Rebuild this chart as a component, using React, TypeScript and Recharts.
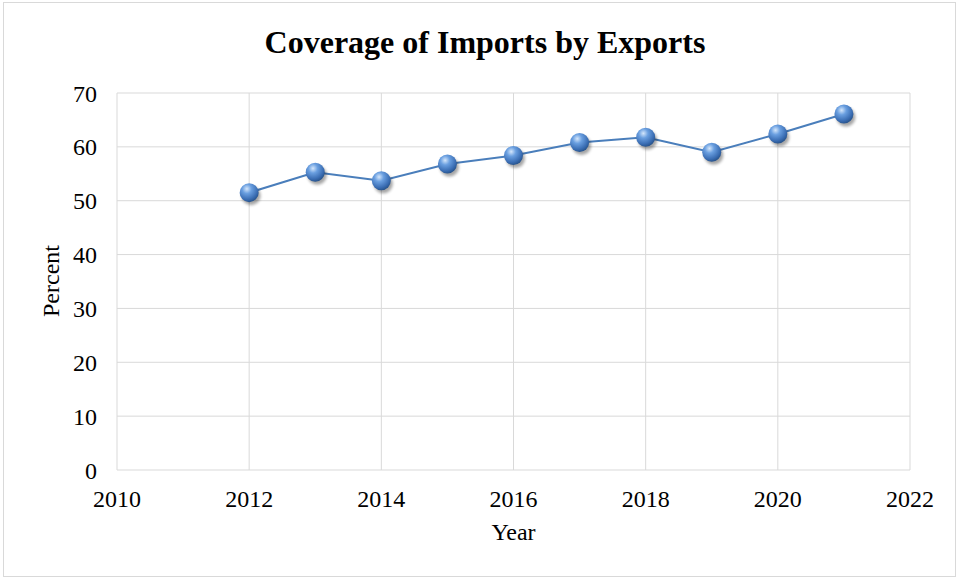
import { LineChart, Line, XAxis, YAxis, CartesianGrid } from 'recharts';

const years = [2012, 2013, 2014, 2015, 2016, 2017, 2018, 2019, 2020, 2021];
const coverage = [51.5, 55.3, 53.7, 56.8, 58.4, 60.8, 61.8, 59.0, 62.4, 66.1];
const yearTicks = [2010, 2012, 2014, 2016, 2018, 2020, 2022];
const percentTicks = [0, 10, 20, 30, 40, 50, 60, 70];

const chartData = years.map((year, i) => ({ year, value: coverage[i] }));

const FONT = '"Liberation Serif", "Times New Roman", serif';

// 3D-looking marker like the Excel preset
function SphereDot(props: any) {
  const { cx, cy, index } = props;
  if (cx == null || cy == null) return null;
  const gid = `sph-${index}`;
  const fid = `shd-${index}`;
  return (
    <g>
      <defs>
        <radialGradient id={gid} cx="38%" cy="30%" r="70%">
          <stop offset="0%" stopColor="#d4e6fb" />
          <stop offset="35%" stopColor="#6a9fe0" />
          <stop offset="80%" stopColor="#3a6db3" />
          <stop offset="100%" stopColor="#2a568f" />
        </radialGradient>
        <filter id={fid} x="-50%" y="-50%" width="200%" height="200%">
          <feGaussianBlur stdDeviation="1.8" />
        </filter>
      </defs>
      <circle cx={cx + 2} cy={cy + 3} r={9.5} fill="#000" opacity={0.35} filter={`url(#${fid})`} />
      <circle cx={cx} cy={cy} r={9.5} fill={`url(#${gid})`} />
    </g>
  );
}

export default function App() {
  return (
    <div style={{ position: 'absolute', left: 0, top: 0, width: 964, height: 579, background: '#fff', fontFamily: FONT }}>
      <div
        style={{
          position: 'absolute',
          left: 3,
          top: 2,
          width: 953,
          height: 575,
          border: '1px solid #d9d9d9',
          boxSizing: 'border-box',
        }}
      />
      <div
        style={{
          position: 'absolute',
          left: 0,
          top: 26,
          width: 964,
          paddingLeft: 3,
          textAlign: 'center',
          fontSize: 32,
          fontWeight: 'bold',
          lineHeight: '32px',
          color: '#000',
        }}
      >
        Coverage of Imports by Exports
      </div>
      <LineChart
        width={964}
        height={579}
        data={chartData}
        margin={{ top: 93, right: 54, bottom: 39, left: 0 }}
        style={{ position: 'absolute', left: 0, top: 0 }}
      >
        <CartesianGrid stroke="#d9d9d9" strokeWidth={1} />
        <XAxis
          dataKey="year"
          type="number"
          domain={[2010, 2022]}
          ticks={yearTicks}
          height={70}
          axisLine={false}
          tickLine={false}
          tickSize={0}
          tickMargin={20}
          tick={{ fill: '#000', fontSize: 24, fontFamily: FONT }}
          label={{ value: 'Year', position: 'insideBottom', offset: 0, fill: '#000', fontSize: 24, fontFamily: FONT }}
        />
        <YAxis
          type="number"
          domain={[0, 70]}
          ticks={percentTicks}
          width={117}
          axisLine={false}
          tickLine={false}
          tickSize={0}
          tickMargin={20}
          tick={{ fill: '#000', fontSize: 24, fontFamily: FONT }}
          label={{
            content: () => (
              <text
                transform="translate(59, 281) rotate(-90)"
                textAnchor="middle"
                fill="#000"
                fontSize={24}
                fontFamily={FONT}
              >
                Percent
              </text>
            ),
          }}
        />
        <Line
          dataKey="value"
          type="linear"
          stroke="#4a7ebb"
          strokeWidth={2}
          dot={(p: any) => <SphereDot key={`d-${p.index}`} {...p} />}
          activeDot={false}
          isAnimationActive={false}
        />
      </LineChart>
    </div>
  );
}
